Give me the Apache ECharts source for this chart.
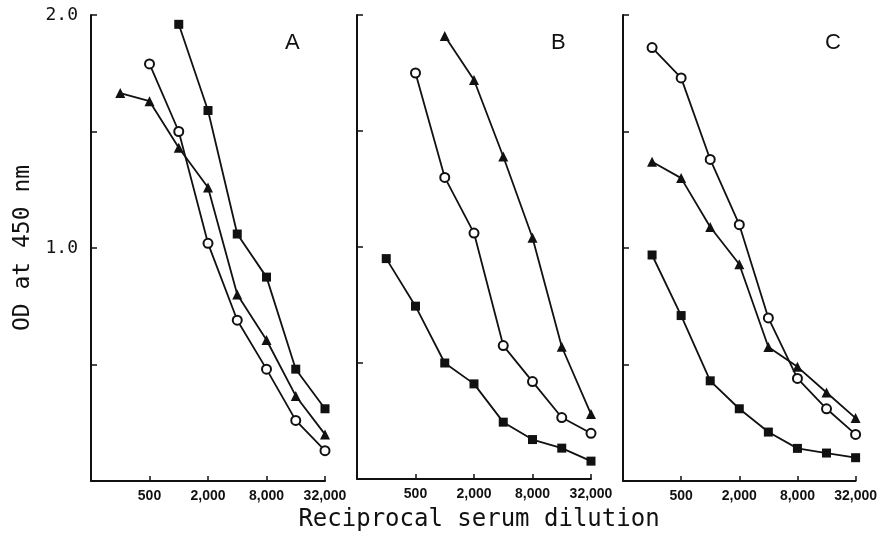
<!DOCTYPE html>
<html>
<head>
<meta charset="utf-8">
<title>OD at 450 nm</title>
<script src="https://cdn.jsdelivr.net/npm/echarts@6/dist/echarts.min.js"></script>
<style>
  html, body { margin: 0; padding: 0; background: #fff; }
  #chart { width: 880px; height: 537px; }
</style>
</head>
<body>
<div id="chart"></div>
<script>
// reciprocal serum dilutions (two-fold steps)
var dilutions = [250, 500, 1000, 2000, 4000, 8000, 16000, 32000];
var tickLabels = { 2: '500', 4: '2,000', 6: '8,000', 8: '32,000' };
var panelNames = ['A', 'B', 'C'];

// OD values, one array per panel and marker (null = not measured)
var squareA   = [null, null, 1.96, 1.59, 1.06, 0.875, 0.48, 0.31];
var triangleA = [1.665, 1.63, 1.43, 1.26, 0.80, 0.605, 0.365, 0.20];
var circleA   = [null, 1.79, 1.50, 1.02, 0.69, 0.48, 0.26, 0.13];

var triangleB = [null, null, 1.91, 1.72, 1.39, 1.04, 0.57, 0.28];
var circleB   = [null, 1.75, 1.30, 1.06, 0.575, 0.42, 0.265, 0.197];
var squareB   = [0.95, 0.745, 0.50, 0.41, 0.245, 0.17, 0.133, 0.077];

var circleC   = [1.86, 1.73, 1.38, 1.10, 0.70, 0.44, 0.31, 0.20];
var triangleC = [1.37, 1.30, 1.09, 0.93, 0.575, 0.49, 0.38, 0.27];
var squareC   = [0.97, 0.71, 0.43, 0.31, 0.21, 0.14, 0.12, 0.10];

var chart = echarts.init(document.getElementById('chart'));

var ink = '#111';
var mono = '"DejaVu Sans Mono", "Liberation Mono", monospace';
var lefts = [91, 357, 623];

// x position = number of two-fold steps above 1:125
function toPoints(vals) {
  var pts = [];
  for (var i = 0; i < vals.length; i++) {
    if (vals[i] != null) pts.push([Math.log2(dilutions[i] / 125), vals[i]]);
  }
  return pts;
}

function makeSeries(vals, idx, kind) {
  var sym = kind === 'square' ? 'rect' : (kind === 'triangle' ? 'triangle' : 'emptyCircle');
  var size = kind === 'square' ? 9 : (kind === 'triangle' ? 10 : 9);
  return {
    type: 'line',
    xAxisIndex: idx,
    yAxisIndex: idx,
    data: toPoints(vals),
    symbol: sym,
    symbolSize: size,
    showAllSymbol: true,
    lineStyle: { color: ink, width: 1.8 },
    itemStyle: { color: ink, borderColor: ink, borderWidth: kind === 'circle' ? 2 : 0 },
    emphasis: { disabled: true },
    animation: false,
    z: kind === 'circle' ? 3 : 2
  };
}

var grids = [], xAxes = [], yAxes = [], titles = [];
for (var p = 0; p < 3; p++) {
  grids.push({ left: lefts[p], width: 234, top: 15, height: 466, containLabel: false });
  xAxes.push({
    type: 'value', gridIndex: p, min: 0, max: 8, interval: 2,
    axisLine: { show: true, onZero: false, lineStyle: { color: ink, width: 2 } },
    axisTick: { show: true, inside: true, length: 5, lineStyle: { color: ink, width: 1.5 } },
    axisLabel: {
      margin: 8, color: ink, fontSize: 14, fontWeight: 'bold',
      fontFamily: '"Liberation Sans", Arial, sans-serif',
      formatter: function (v) { return tickLabels[v] || ''; }
    },
    splitLine: { show: false },
    name: p === 1 ? 'Reciprocal serum dilution' : '',
    nameLocation: 'middle',
    nameGap: 29,
    nameTextStyle: { color: ink, fontSize: 24, fontFamily: mono, padding: [0, 0, 0, 10] }
  });
  yAxes.push({
    type: 'value', gridIndex: p, min: 0, max: 2, interval: 0.5,
    axisLine: { show: true, lineStyle: { color: ink, width: 2 } },
    axisTick: { show: true, inside: true, length: 6, lineStyle: { color: ink, width: 1.5 } },
    axisLabel: {
      show: p === 0, margin: 13, color: ink, fontSize: 18, fontFamily: mono,
      formatter: function (v) { return (v === 1 || v === 2) ? v.toFixed(1) : ''; }
    },
    splitLine: { show: false },
    name: p === 0 ? 'OD at 450 nm' : '',
    nameLocation: 'middle',
    nameGap: 56,
    nameTextStyle: { color: ink, fontSize: 23, fontFamily: mono }
  });
  titles.push({
    text: panelNames[p],
    left: lefts[p] + 189 + (p === 2 ? 8 : 0),
    top: 27,
    textStyle: { color: ink, fontSize: 22, fontWeight: 'normal', fontFamily: '"Liberation Sans", Arial, sans-serif' }
  });
}

var option = {
  backgroundColor: '#fff',
  animation: false,
  title: titles,
  grid: grids,
  xAxis: xAxes,
  yAxis: yAxes,
  series: [
    makeSeries(squareA, 0, 'square'),
    makeSeries(triangleA, 0, 'triangle'),
    makeSeries(circleA, 0, 'circle'),
    makeSeries(triangleB, 1, 'triangle'),
    makeSeries(circleB, 1, 'circle'),
    makeSeries(squareB, 1, 'square'),
    makeSeries(circleC, 2, 'circle'),
    makeSeries(triangleC, 2, 'triangle'),
    makeSeries(squareC, 2, 'square')
  ]
};

chart.setOption(option);
window.onresize = function () {
  chart.resize();
};
</script>
</body>
</html>
